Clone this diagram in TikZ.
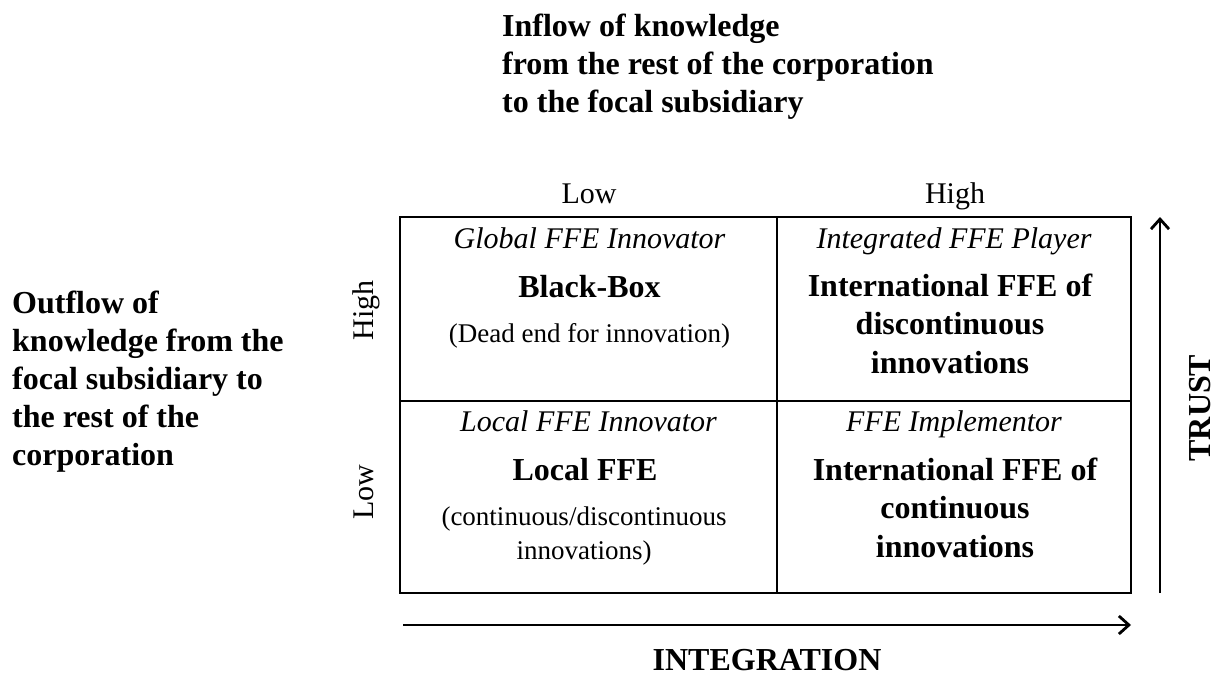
\documentclass[tikz,border=0pt]{standalone}
\usepackage{fontspec}
\setmainfont{Liberation Serif}
\usetikzlibrary{arrows.meta,positioning,calc}
\tikzstyle{cell} = [draw, line width=1.3pt, inner sep=0pt]
\tikzstyle{rolename} = [font=\fontsize{30}{36}\selectfont\itshape, inner sep=0pt, anchor=base]
\tikzstyle{ffename} = [font=\fontsize{32}{38.5}\selectfont\bfseries, align=center, inner sep=0pt, anchor=base]
\tikzstyle{note} = [font=\fontsize{27}{34}\selectfont, align=center, inner sep=0pt, anchor=base]
\tikzstyle{heading} = [font=\fontsize{32}{38}\selectfont\bfseries, align=left, inner sep=0pt, anchor=base west]
\tikzstyle{level} = [font=\fontsize{30}{36}\selectfont, inner sep=0pt, anchor=base]
\tikzstyle{axis} = [line width=2.8pt, -{Straight Barb[length=10pt,width=18pt]}]

\begin{document}
\begin{tikzpicture}[x=1pt, y=1pt]
\useasboundingbox (0,0) rectangle (1216,-677);

% Matrix cells
\node[cell, minimum width=377pt, minimum height=184pt] (tl) at (588.5,-309) {};
\node[cell, minimum width=354pt, minimum height=184pt] (tr) at (954,-309) {};
\node[cell, minimum width=377pt, minimum height=192pt] (bl) at (588.5,-497) {};
\node[cell, minimum width=354pt, minimum height=192pt] (br) at (954,-497) {};

% Top left
\node[rolename] (tlrole) at ($(tl.north)+(1,-32)$) {Global FFE Innovator};
\node[ffename] (tlname) at ($(tl.north)+(1,-81)$) {Black-Box};
\node[note] (tlnote) at ($(tl.north)+(1,-126)$) {(Dead end for innovation)};

% Top right (base = last line)
\node[rolename] (trrole) at ($(tr.north)+(0,-32)$) {Integrated FFE Player};
\node[ffename] (trname) at ($(tr.north)+(-4,-157)$) {International FFE of\\discontinuous\\innovations};

% Bottom left
\node[rolename] (blrole) at ($(bl.north)+(0,-31)$) {Local FFE Innovator};
\node[ffename] (blname) at ($(bl.north)+(-3.5,-80)$) {Local FFE};
\node[note] (blnote) at ($(bl.north)+(-4.5,-159)$) {(continuous/discontinuous\\innovations)};

% Bottom right
\node[rolename] (brrole) at ($(br.north)+(0,-31)$) {FFE Implementor};
\node[ffename] (brname) at ($(br.north)+(1,-157)$) {International FFE of\\continuous\\innovations};

% Levels
\node[level] (lowx) at (589,-203) {Low};
\node[level] (highx) at (955,-203) {High};
\node[level, rotate=90] (highy) at (373,-310) {High};
\node[level, rotate=90] (lowy) at (373,-492) {Low};

% Headings
\node[heading] (inflow) at (502,-112) {Inflow of knowledge\\from the rest of the corporation\\to the focal subsidiary};
\node[heading] (outflow) at (12,-465) {Outflow of\\knowledge from the\\focal subsidiary to\\the rest of the\\corporation};

% Axes
\coordinate (trust0) at (1160,-593);
\coordinate (trust1) at (1160,-217);
\coordinate (integ0) at (403,-625);
\coordinate (integ1) at (1131,-625);
\draw[axis] (trust0) -- (trust1);
\draw[axis] (integ0) -- (integ1);
\node[ffename, rotate=90] (trust) at (1210,-408) {TRUST};
\node[ffename] (integration) at (767,-670) {INTEGRATION};
\end{tikzpicture}
\end{document}
